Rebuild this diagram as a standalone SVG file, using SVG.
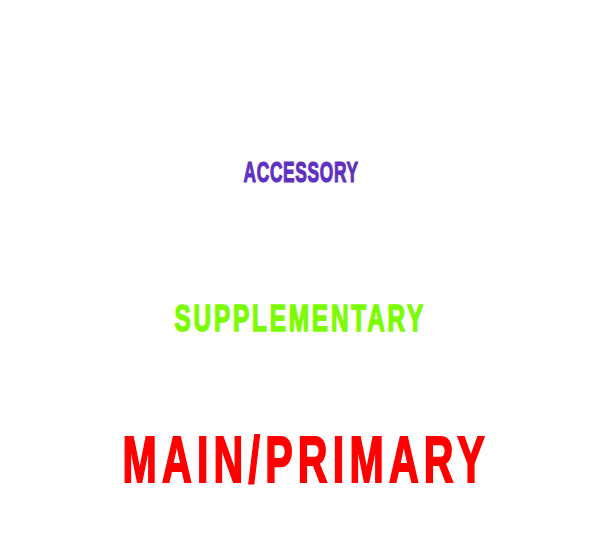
<svg xmlns="http://www.w3.org/2000/svg" width="605" height="548" viewBox="0 0 605 548">
<style>
.lbl{font-family:"Liberation Sans",Arial,sans-serif;font-weight:bold;stroke-linejoin:miter;}
</style>
<rect width="605" height="548" fill="#ffffff"/>
<g id="accessory"><text class="lbl" transform="translate(243.5,182.4) scale(0.57,1)" x="0" y="0" font-size="30.4" fill="#6030C0" stroke="#6030C0" stroke-width="1.2" textLength="201" lengthAdjust="spacing">ACCESSORY</text></g>
<g id="supplementary"><text class="lbl" transform="translate(174.5,330.5) scale(0.66,1)" x="0" y="0" font-size="37" fill="#7CFC00" stroke="#7CFC00" stroke-width="1.5" textLength="377" lengthAdjust="spacing">SUPPLEMENTARY</text></g>
<g id="main"><text class="lbl" transform="translate(122.5,482) scale(0.64,1)" x="0" y="0" font-size="64.3" fill="#FF0000" stroke="#FF0000" stroke-width="2" textLength="566" lengthAdjust="spacing">MAIN/PRIMARY</text></g>
<g id="connectors"/>
</svg>
